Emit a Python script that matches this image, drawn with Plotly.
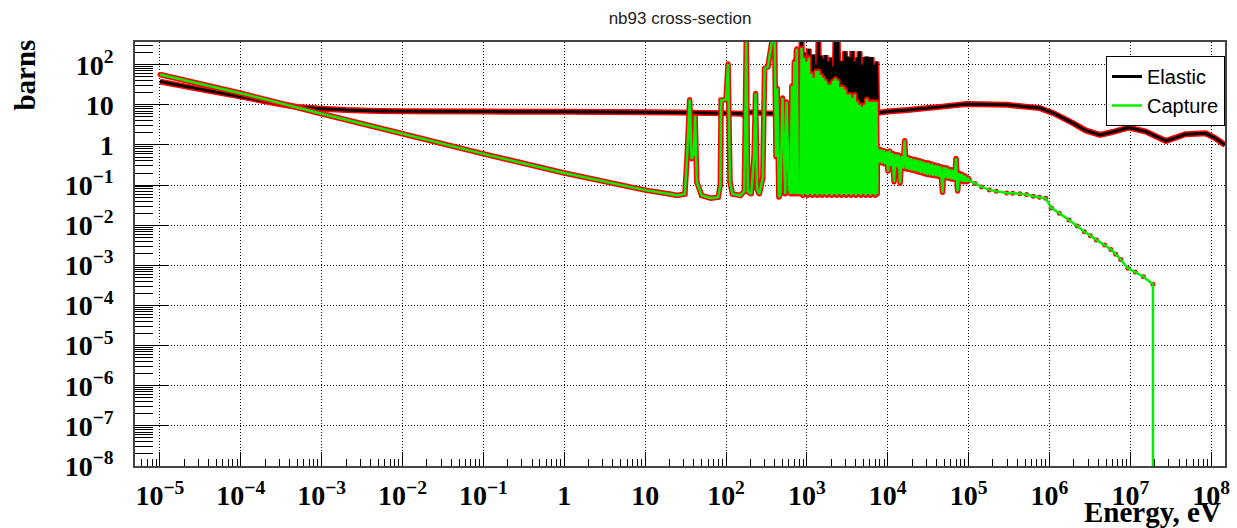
import numpy as np
import plotly.graph_objects as go

# ---------------------------------------------------------------------------
# Nb-93 neutron cross-sections (energy in eV, cross-section in barns)
# ---------------------------------------------------------------------------

# Elastic scattering: thermal / epithermal part
elastic_low_energy = [1e-5, 3e-5, 1e-4, 3e-4, 5e-4, 1e-3, 2e-3, 5e-3, 1e-2, 0.1, 1.0, 10.0]
elastic_low_xs = [38, 25, 16, 10.5, 8.8, 8.0, 7.4, 7.0, 6.9, 6.8, 6.7, 6.5]

# Elastic scattering in the resolved-resonance range (below 630 eV)
elastic_res_energy = [25, 60, 100, 160, 175, 185, 300, 450, 600]
elastic_res_xs = [6.4, 6.3, 6.2, 6.0, 5.0, 6.6, 6.2, 6.0, 6.2]

# Dense resonance range 630 eV - 7.4 keV (valley / peak pairs)
dense_energy = [630, 652, 675, 699, 723, 748, 775, 802, 830, 859, 889, 920, 952, 985,
                1020, 1055, 1092, 1131, 1170, 1211, 1254, 1297, 1343, 1390, 1438, 1489,
                1541, 1595, 1651, 1708, 1768, 1830, 1894, 1960, 2029, 2100, 2173, 2249,
                2328, 2410, 2494, 2581, 2672, 2765, 2862, 2962, 3066, 3173, 3284, 3399,
                3518, 3641, 3769, 3901, 4037, 4178, 4325, 4476, 4633, 4795, 4963, 5136,
                5316, 5502, 5695, 5894, 6100, 6314, 6535, 6764, 7000, 7245, 7400]
dense_elastic_xs = [6.0, 10, 5.8, 20, 6.2, 250, 5.5, 5.5, 5.8, 380, 6.0, 200, 5.5, 120,
                    6.1, 250, 5.6, 170, 6.0, 180, 5.5, 100, 6.2, 380, 5.7, 170,
                    6.0, 140, 5.5, 175, 6.1, 120, 5.8, 150, 6.0, 90, 5.6, 380,
                    6.2, 380, 5.5, 125, 6.0, 120, 5.8, 215, 6.1, 160, 5.5, 150,
                    6.0, 220, 5.7, 120, 6.2, 150, 5.5, 215, 6.0, 100, 5.8, 155,
                    6.1, 160, 5.6, 150, 6.0, 155, 5.5, 100, 6.2, 120, 6.0]
dense_capture_xs = [0.06, 30, 0.06, 120, 0.06, 250, 0.06, 0.09, 0.06, 260, 0.055, 150, 0.06, 120,
                    0.055, 150, 0.06, 60, 0.055, 47, 0.06, 70, 0.055, 70, 0.06, 55,
                    0.055, 47, 0.06, 40, 0.055, 32, 0.06, 32, 0.055, 40, 0.06, 45,
                    0.055, 40, 0.06, 28, 0.055, 28, 0.06, 24, 0.055, 18, 0.06, 18,
                    0.055, 15, 0.06, 18, 0.055, 12, 0.06, 10, 0.055, 9, 0.06, 10,
                    0.055, 14, 0.06, 12, 0.055, 12, 0.06, 12, 0.055, 12, 0.06]

# Elastic scattering above the resonance range
elastic_high_energy = [7450, 1.0e4, 1.74e4, 4.4e4, 9.3e4, 2.95e5, 7.6e5, 1.12e6, 1.95e6,
                       2.8e6, 4.2e6, 6.0e6, 9.5e6, 1.55e7, 2.75e7, 4.8e7, 8.5e7, 1.12e8, 1.48e8]
elastic_high_xs = [6.3, 6.8, 7.4, 8.9, 10.5, 10.0, 8.3, 6.2, 3.5,
                   2.3, 1.78, 2.1, 2.7, 2.15, 1.26, 1.85, 1.95, 1.48, 1.0]

# Radiative capture: 1/v region
capture_low_energy = [1e-5, 1e-4, 1e-3, 1e-2, 0.1, 1.0, 10.0, 20.0]
capture_low_xs = [57, 19.5, 6.0, 1.9, 0.6, 0.2, 0.075, 0.06]

# Radiative capture: resolved resonances below 630 eV
capture_res_energy = [25, 31, 33, 35.5, 37.5, 40, 41.5, 43.5, 50, 65,
                      80, 85, 87, 100, 106, 112, 120, 150, 168, 172,
                      178, 186, 205, 222, 232, 242, 258, 285, 300, 330,
                      370, 400, 415, 430, 450, 470, 500, 540, 560, 600]
capture_res_xs = [0.055, 0.06, 0.5, 13.5, 0.45, 0.6, 5.3, 0.12, 0.055, 0.047,
                  0.05, 0.1, 13, 13.5, 105, 0.12, 0.06, 0.055, 0.07, 1.5,
                  390, 0.07, 0.06, 0.5, 19.5, 0.08, 0.06, 0.15, 80, 90,
                  390, 390, 0.5, 26, 0.05, 0.06, 15, 0.06, 12, 0.08]

# Radiative capture: unresolved range 7.4 keV - 100 keV (upper / lower envelope)
capture_urr_energy = [7450, 7780, 8120, 8480, 8850, 9240, 9650, 10070, 10510, 10980,
                      11460, 11960, 12490, 13040, 13610, 14210, 14840, 15490, 16170, 16880,
                      17620, 18400, 19210, 20050, 20930, 21860, 22820, 23820, 24870, 25960,
                      27100, 28300, 29540, 30840, 32200, 33610, 35090, 36640, 38250, 39930,
                      41690, 43520, 45440, 47440, 49520, 51700, 53980, 56350, 58830, 61420,
                      64120, 66940, 69890, 72960, 76170, 79520, 83020, 86680, 90490, 94470,
                      98630, 102000]
capture_urr_xs = [0.83, 0.36, 0.78, 0.35, 0.74, 0.33, 0.69, 0.22, 0.72, 0.30,
                  0.63, 0.12, 0.59, 0.28, 0.57, 0.11, 0.53, 0.26, 1.3, 0.25,
                  0.50, 0.24, 0.47, 0.23, 0.45, 0.22, 0.43, 0.21, 0.41, 0.20,
                  0.39, 0.19, 0.37, 0.18, 0.36, 0.175, 0.34, 0.17, 0.32, 0.165,
                  0.31, 0.16, 0.29, 0.065, 0.28, 0.15, 0.27, 0.145, 0.25, 0.14,
                  0.24, 0.135, 0.47, 0.07, 0.20, 0.125, 0.19, 0.12, 0.17, 0.12,
                  0.15, 0.13]

# Radiative capture: fast-neutron continuum, ending at the 20 MeV table limit
capture_fast_energy = [1.2e5, 1.45e5, 1.8e5, 2.2e5, 2.95e5, 3.5e5, 4.3e5, 5.2e5, 6.3e5,
                       7.5e5, 9.0e5, 1.05e6, 1.32e6, 1.74e6, 2.2e6, 2.7e6, 3.2e6, 3.8e6,
                       4.8e6, 5.75e6, 6.6e6, 7.6e6, 9.3e6, 1.15e7, 1.45e7, 1.9e7, 1.9e7]
capture_fast_xs = [0.11, 0.09, 0.076, 0.07, 0.064, 0.063, 0.061, 0.058, 0.053,
                   0.05, 0.047, 0.027, 0.02, 0.0135, 0.0095, 0.0069, 0.0055, 0.0043,
                   0.0032, 0.0025, 0.0019, 0.0014, 0.00085, 0.00068, 0.00052, 0.00034, 1e-10]

elastic_energy = np.array(elastic_low_energy + elastic_res_energy + dense_energy + elastic_high_energy)
elastic_xs = np.array(elastic_low_xs + elastic_res_xs + dense_elastic_xs + elastic_high_xs)
capture_energy = np.array(capture_low_energy + capture_res_energy + dense_energy
                          + capture_urr_energy + capture_fast_energy)
capture_xs = np.array(capture_low_xs + capture_res_xs + dense_capture_xs
                      + capture_urr_xs + capture_fast_xs)

# Axis ticks
x_tick_vals = [10.0 ** e for e in range(-5, 9)]
x_tick_text = ["10<sup>\u22125</sup>", "10<sup>\u22124</sup>", "10<sup>\u22123</sup>",
               "10<sup>\u22122</sup>", "10<sup>\u22121</sup>", "1", "10",
               "10<sup>2</sup>", "10<sup>3</sup>", "10<sup>4</sup>", "10<sup>5</sup>",
               "10<sup>6</sup>", "10<sup>7</sup>", "10<sup>8</sup>"]
y_tick_vals = [10.0 ** e for e in range(-8, 3)]
y_tick_text = ["10<sup>\u22128</sup>", "10<sup>\u22127</sup>", "10<sup>\u22126</sup>",
               "10<sup>\u22125</sup>", "10<sup>\u22124</sup>", "10<sup>\u22123</sup>",
               "10<sup>\u22122</sup>", "10<sup>\u22121</sup>", "1", "10", "10<sup>2</sup>"]
x_minor = [m * 10.0 ** e for e in range(-6, 9) for m in range(2, 10)]
y_minor = [m * 10.0 ** e for e in range(-8, 3) for m in range(2, 10)]

RED = "#ff0000"
GREEN = "#00f000"

fig = go.Figure()

# Elastic: red marker band underneath a black line
fig.add_trace(go.Scatter(x=elastic_energy, y=elastic_xs, mode="lines",
                         line=dict(color=RED, width=6, simplify=False),
                         showlegend=False, hoverinfo="skip"))
fig.add_trace(go.Scatter(x=elastic_energy, y=elastic_xs, mode="lines", name="Elastic",
                         line=dict(color="black", width=3, simplify=False)))

# Capture: red band where the point density is high, red dots everywhere
dense_mask = capture_energy <= 1.03e5
fig.add_trace(go.Scatter(x=capture_energy[dense_mask], y=capture_xs[dense_mask], mode="lines",
                         line=dict(color=RED, width=5.5, simplify=False),
                         showlegend=False, hoverinfo="skip"))
fig.add_trace(go.Scatter(x=capture_energy, y=capture_xs, mode="markers",
                         marker=dict(color=RED, size=5),
                         showlegend=False, hoverinfo="skip"))
fig.add_trace(go.Scatter(x=capture_energy, y=capture_xs, mode="lines", name="Capture",
                         line=dict(color=GREEN, width=2.5, simplify=False)))

serif_bold = dict(family="Liberation Serif", size=28, color="black", weight="bold")
grid = dict(showgrid=True, gridcolor="#000000", gridwidth=1, griddash="1px,2px")

fig.update_xaxes(type="log", range=[-5.308, 8.17],
                 tickmode="array", tickvals=x_tick_vals, ticktext=x_tick_text,
                 ticks="inside", ticklen=14, tickwidth=1, tickcolor="black",
                 tickfont=serif_bold, ticklabelstandoff=4,
                 showline=True, linecolor="#444444", linewidth=1.5, mirror=True,
                 zeroline=False,
                 minor=dict(tickmode="array", tickvals=x_minor, ticks="inside",
                            ticklen=7, tickwidth=1, tickcolor="black", showgrid=False),
                 **grid)
fig.update_yaxes(type="log", range=[-8, 2.566],
                 tickmode="array", tickvals=y_tick_vals, ticktext=y_tick_text,
                 ticks="inside", ticklen=33, tickwidth=1, tickcolor="black",
                 tickfont=serif_bold, ticklabelstandoff=14,
                 showline=True, linecolor="#444444", linewidth=1.5, mirror=True,
                 zeroline=False,
                 minor=dict(tickmode="array", tickvals=y_minor, ticks="inside",
                            ticklen=18, tickwidth=1, tickcolor="black", showgrid=False),
                 **grid)

fig.update_layout(
    width=1237, height=528,
    margin=dict(l=135, r=7, t=42, b=62),
    paper_bgcolor="white", plot_bgcolor="white",
    title=dict(text="nb93 cross-section", x=0.5, xref="paper", xanchor="center",
               y=1 - 18 / 528, yref="container", yanchor="middle",
               font=dict(family="Liberation Sans", size=17, color="#222222")),
    legend=dict(x=1, xanchor="right", y=0.967, yanchor="top",
                bgcolor="white", bordercolor="black", borderwidth=1,
                font=dict(family="Liberation Sans", size=20, color="black"),
                itemwidth=30, tracegroupgap=0),
    annotations=[
        dict(text="barns", xref="paper", yref="paper", x=-0.1005, y=0.922,
             xanchor="center", yanchor="middle", textangle=-90, showarrow=False,
             font=dict(family="Liberation Serif", size=29, color="black", weight="bold")),
        dict(text="Energy, eV", xref="paper", yref="paper", x=0.998, y=-0.1085,
             xanchor="right", yanchor="middle", showarrow=False,
             font=dict(family="Liberation Serif", size=29, color="black", weight="bold")),
    ],
)

fig.write_html("out.html")
